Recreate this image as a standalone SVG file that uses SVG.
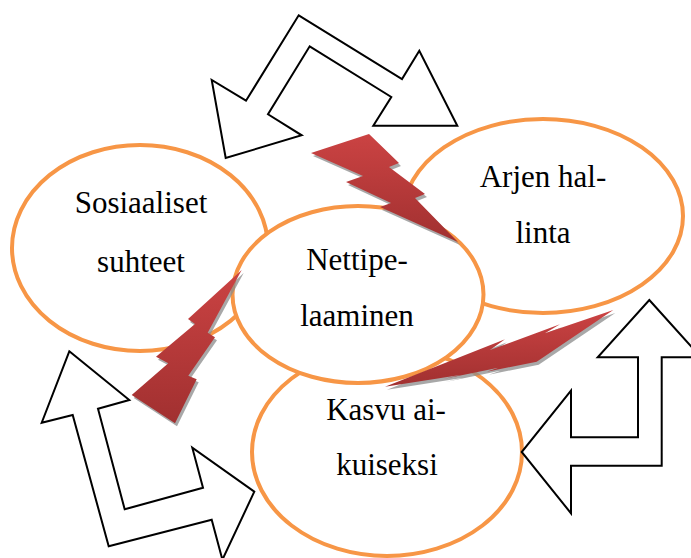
<svg xmlns="http://www.w3.org/2000/svg" xmlns:xlink="http://www.w3.org/1999/xlink" width="691" height="558" viewBox="0 0 691 558">
<style>
.node ellipse{fill:#ffffff;stroke:#f79646;stroke-width:4}
.lbl{font-family:"Liberation Serif","Times New Roman",serif;font-size:31px;fill:#000;text-anchor:middle}
.arrow{fill:#ffffff;stroke:#000;stroke-width:2;stroke-linejoin:miter}
.bolt{fill:url(#boltGrad)}
.shadow{fill:#8c8c8c;opacity:0.75}
</style>
<defs>
<linearGradient id="boltGrad" x1="0" y1="0" x2="0" y2="1">
<stop offset="0" stop-color="#cb4343"/>
<stop offset="1" stop-color="#a13030"/>
</linearGradient>
<filter id="soft" x="-10%" y="-10%" width="120%" height="120%"><feGaussianBlur stdDeviation="0.7"/></filter>
<polygon id="bolt1" points="311,153 369,134 399,163 389,167 425,194 415,198 458,242 380,207 391,203 346,182 363,176"/>
<polygon id="bolt2" points="241.7,270 188,319 195,324 156,356.7 168.3,363.3 131.7,395 175,423.3 196.7,379.3 188.3,375.7 215,337.3 207.7,332.7"/>
<polygon id="bolt3" points="385,386.7 505,339.3 490,350 560,324.3 545,333.3 613.3,310 536.7,361.7 486.7,371.7 498.3,367.7 443.3,379 460,375"/>
</defs>
<rect width="691" height="558" fill="#ffffff"/>
<g id="node-sosiaaliset" class="node">
<ellipse cx="140" cy="248" rx="128" ry="103"/>
<text class="lbl" x="141" y="213">Sosiaaliset</text>
<text class="lbl" x="141" y="272">suhteet</text>
</g>
<g id="node-arjen" class="node">
<ellipse cx="543" cy="216" rx="140" ry="97"/>
<text class="lbl" x="543" y="187">Arjen hal-</text>
<text class="lbl" x="543" y="243">linta</text>
</g>
<g id="node-kasvu" class="node">
<ellipse cx="387" cy="452" rx="135" ry="104"/>
<text class="lbl" x="386" y="420">Kasvu ai-</text>
<text class="lbl" x="387" y="475">kuiseksi</text>
</g>
<g id="node-nettipelaaminen" class="node">
<ellipse cx="358" cy="294.5" rx="125.5" ry="88.5"/>
<text class="lbl" x="357" y="270">Nettipe-</text>
<text class="lbl" x="357" y="326">laaminen</text>
</g>
<g id="connectors">
<polygon class="arrow" points="298.7,15.3 402,79 419.3,50.7 457.3,125.7 373.3,125.7 391.3,97 309.7,46.3 268,114.3 301.7,135.3 225.7,158 211.7,80 246,100.7"/>
<polygon class="arrow" points="69.3,351.3 129.3,400 98,408.7 124.7,509.3 203,487.7 192.3,447.7 254.3,491.7 222.4,559.7 211.7,519.7 108.7,546.3 72.7,415 41.7,422.7"/>
<polygon class="arrow" points="649.3,300 701,357.3 661.7,357.3 661.7,465.7 571,465.7 571,513.3 521.7,452 571,390.7 571,437.3 638,437.3 638,357.3 597.7,357.3"/>
<use xlink:href="#bolt1" class="shadow" transform="translate(2,3)" filter="url(#soft)"/>
<use xlink:href="#bolt1" class="bolt"/>
<use xlink:href="#bolt2" class="shadow" transform="translate(2,3)" filter="url(#soft)"/>
<use xlink:href="#bolt2" class="bolt"/>
<use xlink:href="#bolt3" class="shadow" transform="translate(2,3)" filter="url(#soft)"/>
<use xlink:href="#bolt3" class="bolt"/>
</g>
</svg>
